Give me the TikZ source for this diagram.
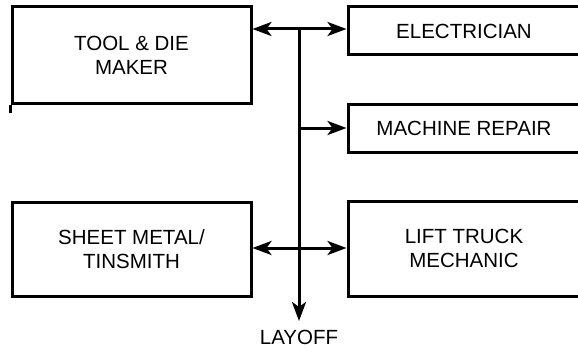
\documentclass[tikz,border=0pt]{standalone}
\usepackage{fontspec}
\setmainfont{Liberation Sans}
\usetikzlibrary{arrows.meta, positioning}

\begin{document}
\begin{tikzpicture}[x=1pt, y=-1pt,
    jobbox/.style={draw=borderColour, line width=3pt, align=center, inner sep=0pt, font=\fontsize{20.5}{24}\selectfont},
    flow/.style={draw=borderColour, line width=3pt},
    tip/.style={-{Stealth[length=19pt,width=14pt,inset=5pt]}},
    twotip/.style={{Stealth[length=19pt,width=14pt,inset=5pt]}-{Stealth[length=19pt,width=14pt,inset=5pt]}}]
    % Define colours
    \definecolor{borderColour}{HTML}{000000}

    % Fix the page size
    \useasboundingbox (0,0) rectangle (578,353);

    % Left column
    \node[jobbox, minimum width=239pt, minimum height=96pt] (tool) at (131.5,55) {TOOL \& DIE\\MAKER};
    \node[jobbox, minimum width=239pt, minimum height=94pt] (sheet) at (131.5,249) {SHEET METAL/\\TINSMITH};
    \draw[flow] (tool.south west) -- ++(0,8);

    % Right column (runs off the page)
    \node[jobbox, minimum width=232pt, minimum height=48pt] (elec) at (464,31) {ELECTRICIAN};
    \node[jobbox, minimum width=232pt, minimum height=48pt] (repair) at (464,128) {MACHINE REPAIR};
    \node[jobbox, minimum width=232pt, minimum height=95pt] (lift) at (464,248.5) {LIFT TRUCK\\MECHANIC};

    % Junctions on the trunk line
    \coordinate (jtop) at (299,29);
    \coordinate (jmid) at (299,128);
    \coordinate (jbot) at (299,248);
    \coordinate (drop) at (299,321);
    \node[below=9pt of drop, inner sep=0pt, font=\fontsize{20.5}{24}\selectfont] (layoff) {LAYOFF};

    % Connectors
    \draw[flow, twotip] (tool.east |- jtop) -- (elec.west |- jtop);
    \draw[flow, tip] (jtop) -- (drop);
    \draw[flow, tip] (jmid) -- (repair.west);
    \draw[flow, twotip] (sheet.east |- jbot) -- (lift.west |- jbot);
\end{tikzpicture}
\end{document}
